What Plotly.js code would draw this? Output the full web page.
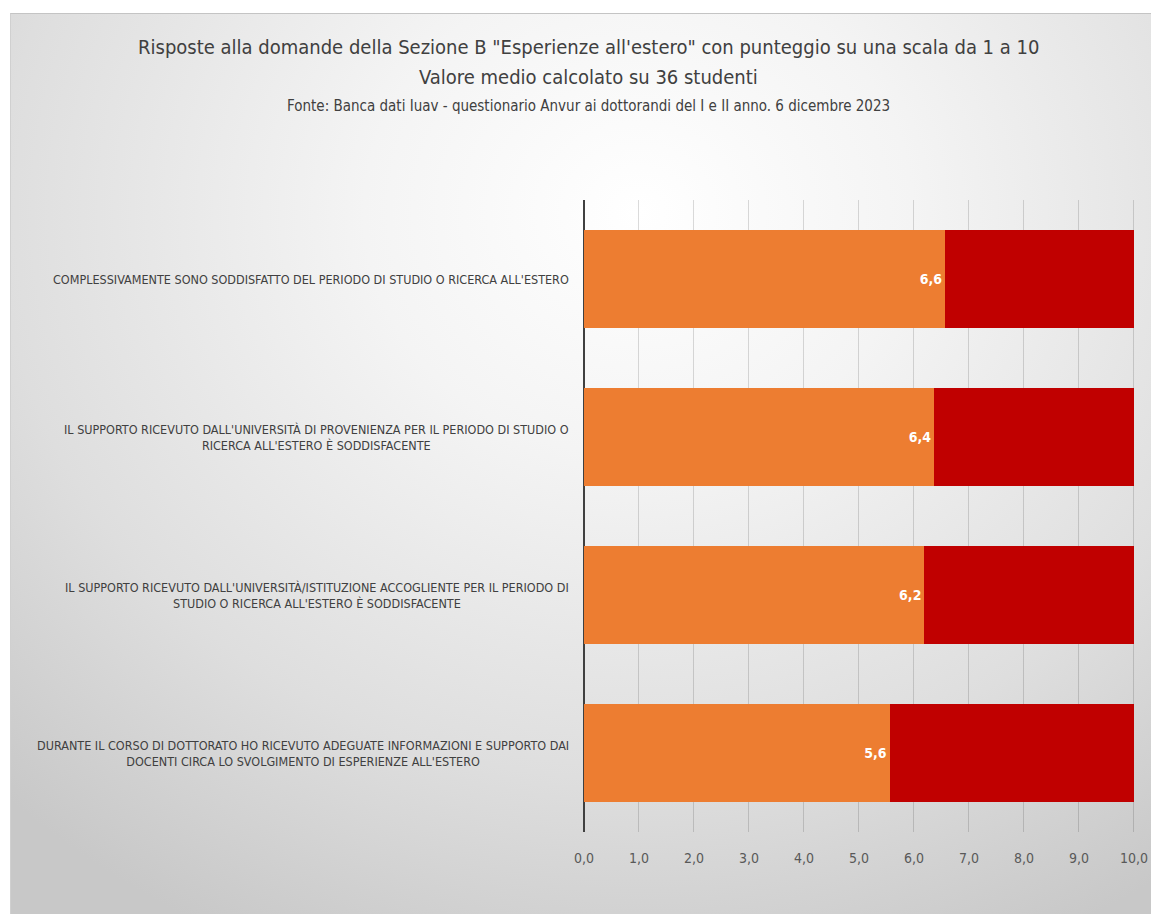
<!DOCTYPE html>
<html>
<head>
<meta charset="utf-8">
<script src="https://cdn.plot.ly/plotly-3.0.1.min.js"></script>
<style>
  html, body { margin: 0; padding: 0; background: #ffffff; }
  #bg { position: absolute; left: 10px; top: 13px; width: 1141px; height: 901px;
        border-top: 1px solid #c4c4c4; border-left: 1px solid #d0d0d0;
        background: radial-gradient(ellipse 80% 90% at 55% 22%, #ffffff 0%, #f4f4f4 30%, #dedede 70%, #c8c8c8 100%); }
  #chart { position: absolute; left: 0; top: 0; width: 1151px; height: 914px; }
</style>
</head>
<body>
<div id="bg"></div>
<div id="chart"></div>
<script>
const categories = [
  "COMPLESSIVAMENTE SONO SODDISFATTO DEL PERIODO DI STUDIO O RICERCA ALL'ESTERO",
  "IL SUPPORTO RICEVUTO DALL'UNIVERSITÀ DI PROVENIENZA PER IL PERIODO DI STUDIO O<br>RICERCA ALL'ESTERO È SODDISFACENTE",
  "IL SUPPORTO RICEVUTO DALL'UNIVERSITÀ/ISTITUZIONE ACCOGLIENTE PER IL PERIODO DI<br>STUDIO O RICERCA ALL'ESTERO È SODDISFACENTE",
  "DURANTE IL CORSO DI DOTTORATO HO RICEVUTO ADEGUATE INFORMAZIONI E SUPPORTO DAI<br>DOCENTI CIRCA LO SVOLGIMENTO DI ESPERIENZE ALL'ESTERO"
];
const meanValues = [6.57, 6.37, 6.19, 5.56];
const remainderValues = [3.43, 3.63, 3.81, 4.44];
const tickValues = [0, 1, 2, 3, 4, 5, 6, 7, 8, 9, 10];
const titleLines = [
  "Risposte alla domande della Sezione B \"Esperienze all'estero\" con punteggio su una scala da 1 a 10",
  "Valore medio calcolato su 36 studenti",
  "Fonte: Banca dati Iuav - questionario Anvur ai dottorandi del I e II anno. 6 dicembre 2023"
];

const font = "Liberation Sans Narrow, DejaVu Sans Condensed, Arial Narrow, sans-serif";

const traces = [
  {
    type: "bar", orientation: "h", y: categories, x: meanValues,
    marker: { color: "#ED7D31" },
    texttemplate: "%{x:.1f}", textposition: "inside", insidetextanchor: "end",
    textfont: { color: "#ffffff", size: 14, family: font, weight: "bold" },
    hoverinfo: "x+y", showlegend: false
  },
  {
    type: "bar", orientation: "h", y: categories, x: remainderValues,
    marker: { color: "#C00000" },
    hoverinfo: "x+y", showlegend: false
  }
];

const annotations = categories.map(c => ({
  xref: "paper", yref: "y", x: -0.023, y: c, xanchor: "right", yanchor: "middle",
  align: "center", text: c, showarrow: false,
  font: { family: font, size: 12.5, color: "#404040" }
}));
const titleY = [47, 77, 106];
const titleSize = [20, 20, 15];
titleLines.forEach((t, i) => annotations.push({
  xref: "paper", yref: "paper", x: (586 - 584) / 551 - 0.0, xshift: -0, 
  y: 1 + (200 - titleY[i]) / 632, xanchor: "center", yanchor: "middle",
  text: t, showarrow: false,
  font: { family: font, size: titleSize[i], color: "#404040" }
}));
// center title lines at x=586 px in page: convert to paper
annotations.slice(-3).forEach(a => { a.x = (586 - 584) / 551; a.xshift = -(584 - 586) ; });

const layout = {
  width: 1151, height: 914,
  paper_bgcolor: "rgba(0,0,0,0)", plot_bgcolor: "rgba(0,0,0,0)",
  margin: { l: 584, r: 16, t: 200, b: 82 },
  barmode: "stack", bargap: 0.386,
  separators: ",.",
  showlegend: false,
  xaxis: {
    range: [0, 10.02], tickvals: tickValues, tickformat: ".1f",
    showgrid: true, gridcolor: "rgba(0,0,0,0.14)", gridwidth: 1,
    zeroline: true, zerolinecolor: "#404040", zerolinewidth: 2,
    showline: false, ticks: "", ticklabelstandoff: 16,
    tickfont: { family: font, size: 14, color: "#595959" },
    fixedrange: true
  },
  yaxis: {
    type: "category", autorange: "reversed",
    showticklabels: false, showgrid: false, zeroline: false, showline: false, ticks: "",
    fixedrange: true
  },
  annotations: annotations
};

Plotly.newPlot("chart", traces, layout, { displayModeBar: false, staticPlot: true });
</script>
</body>
</html>
